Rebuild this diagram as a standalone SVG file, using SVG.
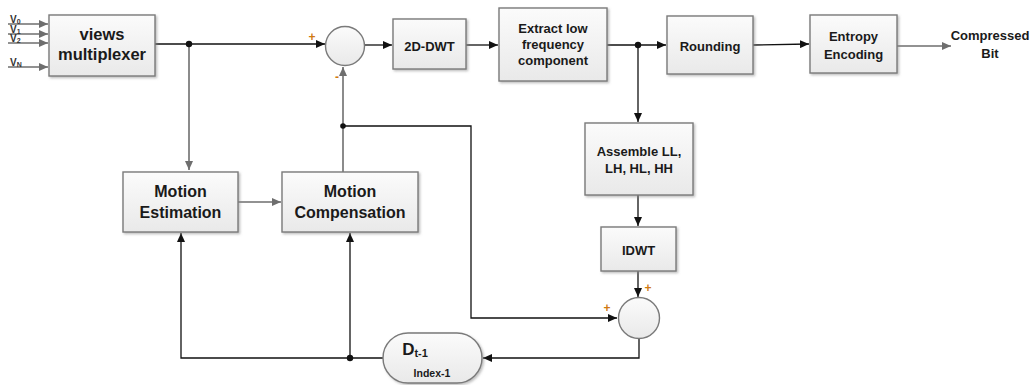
<svg xmlns="http://www.w3.org/2000/svg" width="1033" height="385" viewBox="0 0 1033 385">
  <style>
    .box { fill: url(#boxFill); stroke: #7a7a7a; stroke-width: 1.4; filter: url(#shadow); }
    .sum { fill: url(#boxFill); stroke: #7a7a7a; stroke-width: 1.4; }
    .lbl { font-family: "Liberation Sans", Arial, sans-serif; font-weight: bold; fill: #1a1a1a; text-anchor: middle; }
    .big { font-size: 16px; }
    .mid { font-size: 13px; }
    .sign { font-family: "Liberation Sans", Arial, sans-serif; font-weight: bold; font-size: 12px; fill: #d07a10; text-anchor: middle; }
    .vin { font-family: "Liberation Sans", Arial, sans-serif; font-weight: bold; font-size: 10px; fill: #333; }
    .wire { fill: none; stroke: #111; stroke-width: 1.3; }
    .wireG { fill: none; stroke: #6e6e6e; stroke-width: 1.6; }
  </style>
  <defs>
    <linearGradient id="boxFill" x1="0" y1="0" x2="0" y2="1">
      <stop offset="0" stop-color="#fbfbfb"/>
      <stop offset="1" stop-color="#e9e9e9"/>
    </linearGradient>
    <filter id="shadow" x="-10%" y="-10%" width="130%" height="130%">
      <feDropShadow dx="1.5" dy="1.5" stdDeviation="0.8" flood-color="#888" flood-opacity="0.55"/>
    </filter>
    <marker id="arr" markerWidth="10" markerHeight="8" refX="9" refY="4" orient="auto" markerUnits="userSpaceOnUse">
      <path d="M0,0 L9,4 L0,8 Z" fill="#111"/>
    </marker>
    <marker id="arrG" markerWidth="10" markerHeight="8" refX="9" refY="4" orient="auto" markerUnits="userSpaceOnUse">
      <path d="M0,0 L9,4 L0,8 Z" fill="#6e6e6e"/>
    </marker>
  </defs>

  <!-- connectors -->
  <g id="connectors">
    <!-- view inputs -->
    <line class="wireG" x1="8" y1="24" x2="48" y2="24" marker-end="url(#arrG)"/>
    <line class="wireG" x1="8" y1="34" x2="48" y2="34" marker-end="url(#arrG)"/>
    <line class="wireG" x1="8" y1="43" x2="48" y2="43" marker-end="url(#arrG)"/>
    <line class="wireG" x1="8" y1="67" x2="48" y2="67" marker-end="url(#arrG)"/>

    <!-- forward path -->
    <line class="wire" x1="155" y1="44" x2="325" y2="44" marker-end="url(#arr)"/>
    <line class="wire" x1="365" y1="45" x2="392" y2="45" marker-end="url(#arr)"/>
    <line class="wire" x1="466" y1="45" x2="498" y2="45" marker-end="url(#arr)"/>
    <line class="wire" x1="607" y1="45" x2="666" y2="45" marker-end="url(#arr)"/>
    <line class="wire" x1="753" y1="45" x2="809" y2="44" marker-end="url(#arr)"/>
    <line class="wireG" x1="897" y1="46" x2="951" y2="46" marker-end="url(#arrG)"/>

    <!-- reconstruction branch -->
    <line class="wire" x1="638" y1="45" x2="638" y2="122" marker-end="url(#arr)"/>
    <line class="wire" x1="638" y1="195" x2="638" y2="226" marker-end="url(#arr)"/>
    <line class="wire" x1="638" y1="271" x2="638" y2="297" marker-end="url(#arr)"/>

    <!-- motion estimation / compensation -->
    <line class="wireG" x1="189" y1="44" x2="189" y2="170" marker-end="url(#arrG)"/>
    <line class="wireG" x1="238" y1="202" x2="281" y2="202" marker-end="url(#arrG)"/>
    <line class="wireG" x1="343" y1="172" x2="343" y2="67" marker-end="url(#arrG)"/>
    <polyline class="wire" points="343,126 471,126 471,318 617,318" marker-end="url(#arr)"/>

    <!-- reference frame loop -->
    <polyline class="wire" points="639,339 639,358 483,358" marker-end="url(#arr)"/>
    <polyline class="wire" points="383,358 181,358 181,233" marker-end="url(#arr)"/>
    <line class="wire" x1="350" y1="358" x2="350" y2="233" marker-end="url(#arr)"/>

    <!-- junction dots -->
    <circle cx="189" cy="44" r="3.2" fill="#111"/>
    <circle cx="638" cy="45" r="3.2" fill="#111"/>
    <circle cx="343" cy="126" r="2.8" fill="#111"/>
    <circle cx="350" cy="358" r="3.2" fill="#111"/>
  </g>

  <!-- input labels -->
  <g id="inputs">
    <text class="vin" x="10" y="23">V<tspan font-size="7" dy="1">0</tspan></text>
    <text class="vin" x="10" y="33">V<tspan font-size="7" dy="1">1</tspan></text>
    <text class="vin" x="10" y="42">V<tspan font-size="7" dy="1">2</tspan></text>
    <text class="vin" x="10" y="66">V<tspan font-size="7" dy="1">N</tspan></text>
  </g>

  <g id="views-multiplexer">
    <rect class="box" x="49" y="15" width="106" height="61"/>
    <text class="lbl" x="102" y="40" font-size="16.5">views</text>
    <text class="lbl" x="102" y="60" font-size="16.5">multiplexer</text>
  </g>

  <g id="sum-1">
    <circle class="sum" cx="345" cy="46" r="19.5"/>
    <text class="sign" x="312" y="41">+</text>
    <text class="sign" x="337" y="81" fill="#333">-</text>
  </g>

  <g id="dwt">
    <rect class="box" x="393" y="19" width="73" height="50"/>
    <text class="lbl mid" x="429.5" y="51">2D-DWT</text>
  </g>

  <g id="extract-low">
    <rect class="box" x="499" y="8" width="108" height="73"/>
    <text class="lbl mid" x="553" y="33">Extract low</text>
    <text class="lbl mid" x="553" y="49">frequency</text>
    <text class="lbl mid" x="553" y="65">component</text>
  </g>

  <g id="rounding">
    <rect class="box" x="667" y="16" width="86" height="58"/>
    <text class="lbl mid" x="710" y="51">Rounding</text>
  </g>

  <g id="entropy-encoding">
    <rect class="box" x="810" y="15" width="87" height="58"/>
    <text class="lbl mid" x="853.5" y="41" font-weight="normal">Entropy</text>
    <text class="lbl mid" x="853.5" y="59" font-weight="normal">Encoding</text>
  </g>

  <g id="compressed-bit">
    <text class="lbl mid" x="990" y="40">Compressed</text>
    <text class="lbl mid" x="990" y="58">Bit</text>
  </g>

  <g id="motion-estimation">
    <rect class="box" x="123" y="172" width="115" height="60"/>
    <text class="lbl big" x="180.5" y="197">Motion</text>
    <text class="lbl big" x="180.5" y="218">Estimation</text>
  </g>

  <g id="motion-compensation">
    <rect class="box" x="282" y="172" width="136" height="60"/>
    <text class="lbl big" x="350" y="197">Motion</text>
    <text class="lbl big" x="350" y="218">Compensation</text>
  </g>

  <g id="assemble">
    <rect class="box" x="585" y="123" width="108" height="72"/>
    <text class="lbl mid" x="639" y="156">Assemble LL,</text>
    <text class="lbl mid" x="639" y="173">LH, HL, HH</text>
  </g>

  <g id="idwt">
    <rect class="box" x="601" y="227" width="75" height="44"/>
    <text class="lbl mid" x="638.5" y="255">IDWT</text>
  </g>

  <g id="sum-2">
    <circle class="sum" cx="639" cy="318" r="20.5"/>
    <text class="sign" x="648" y="292">+</text>
    <text class="sign" x="607" y="312">+</text>
  </g>

  <g id="frame-buffer">
    <rect class="box" x="383" y="333" width="99" height="50" rx="25" ry="25"/>
    <text class="lbl" x="415" y="355" font-size="17" text-anchor="start">D<tspan font-size="11" dy="2">t-1</tspan></text>
    <text class="lbl" x="432" y="377" font-size="10.5">Index-1</text>
  </g>
</svg>
